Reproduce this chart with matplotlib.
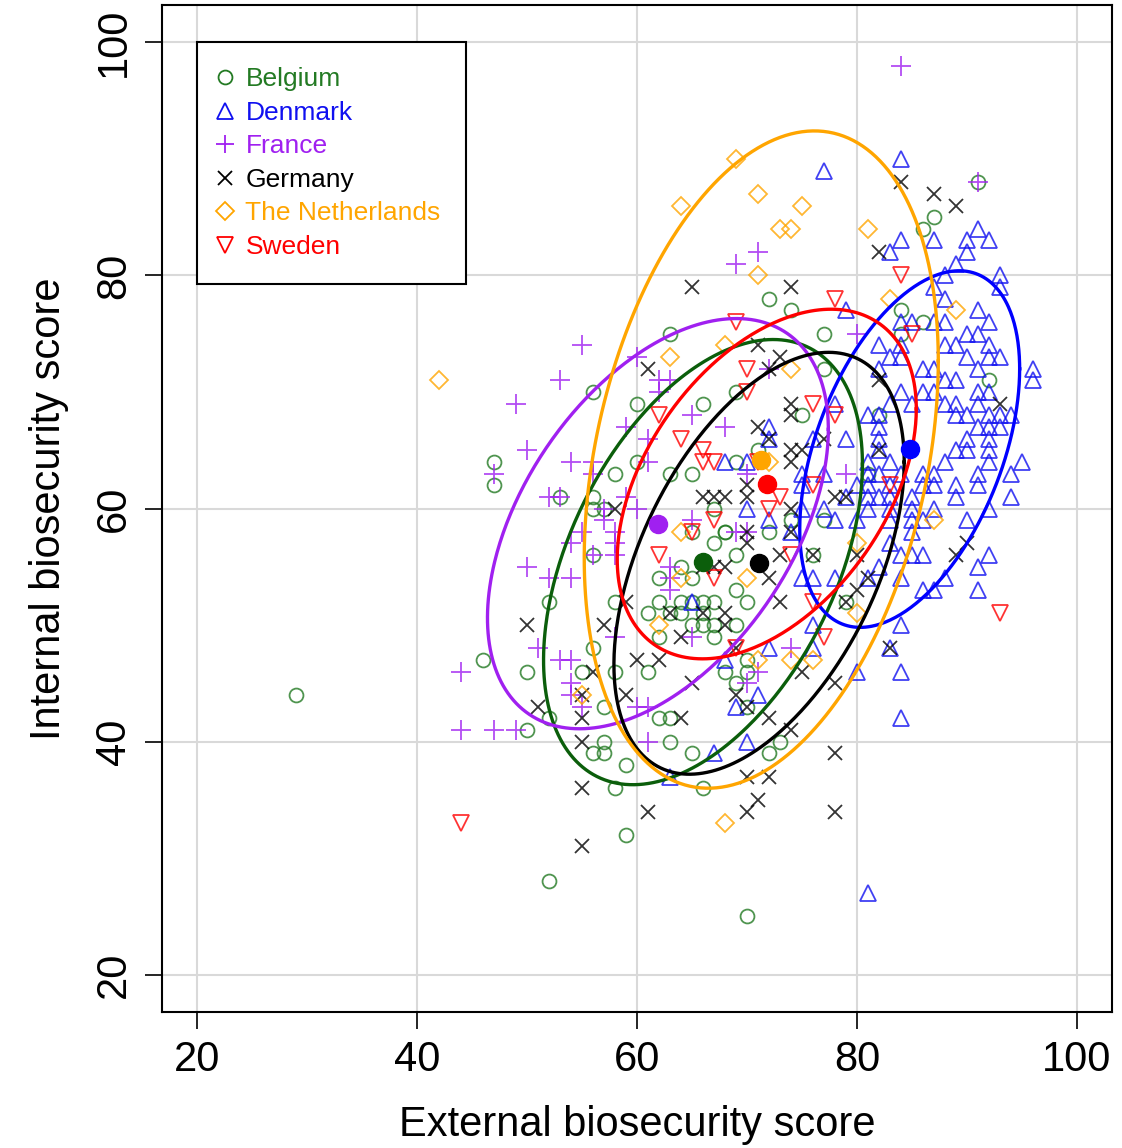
import numpy as np
import matplotlib
matplotlib.use("Agg")
import matplotlib.pyplot as plt
from matplotlib.lines import Line2D

plt.rcParams['font.family'] = ['Liberation Sans Narrow', 'Liberation Sans', 'DejaVu Sans']

countries = ["Belgium", "Denmark", "France", "Germany", "The Netherlands", "Sweden"]
colors = ["#237A23", "#1010F0", "#A020F0", "#000000", "#FFA500", "#FF0000"]
markers = ["o", "^", "+", "x", "D", "v"]

belgium = [(29,44),(47,64),(47,62),(46,47),(50,46),(50,41),(52,28),(59,32),(70,25),(58,36),(59,38),(66,36),
    (52,52),(58,52),(56,48),(55,46),(58,46),(57,43),(52,42),(57,40),(56,39),(57,39),(62,52),(61,51),(62,49),
    (62,42),(63,40),(62,54),(61,46),(56,70),(60,69),(53,61),(58,63),(60,64),(63,63),(63,75),(56,61),(56,56),
    (69,53),(70,52),(68,58),(67,57),(69,56),(65,52),(66,52),(67,52),(66,51),(67,50),(65,50),(64,51),(67,49),
    (70,46),(69,45),(63,42),(65,39),(70,43),(72,39),(73,40),(70,47),(68,46),(79,52),(76,56),(69,50),
    (72,78),(74,77),(77,75),(66,69),(65,63),(69,64),(77,72),(69,70),(75,68),(71,65),(65,58),(68,58),(72,58),
    (74,59),(77,59),(81,63),(87,85),(86,84),(84,77),(86,76),(84,75),(92,71),(82,68),(91,88),
    (56,60),(57,60),(67,60),(64,55),(65,54),(63,51),(64,52),(66,50)]
denmark = [(84,90),(84,83),(83,82),(87,83),(91,84),(90,83),(92,83),(90,82),(89,81),(88,80),(93,80),(93,79),
    (87,79),(88,78),(91,77),(85,76),(87,76),(88,76),(92,76),(90,75),(91,75),(89,74),(92,74),(90,73),(92,73),
    (93,73),(88,74),(86,72),(87,72),(91,72),(96,72),(96,71),(88,71),(89,71),(84,70),(86,70),(87,70),(91,70),
    (92,70),(85,69),(88,69),(89,69),(90,68),(91,69),(89,68),(92,68),(93,68),(94,68),(91,67),(92,67),(93,67),
    (90,66),(92,66),(82,67),(82,74),(83,64),(84,63),(86,63),(87,63),(89,65),(90,65),(92,65),(92,64),(95,64),
    (88,64),(91,63),(94,63),(86,62),(87,62),(89,62),(91,62),(89,61),(94,61),(85,60),(87,60),(92,60),(90,59),
    (86,59),(85,58),(83,57),(84,56),(85,56),(86,56),(92,56),(91,55),(84,54),(88,54),(86,53),(87,53),(91,53),
    (84,50),(83,48),(84,46),(84,42),(81,27),(79,77),(72,67),(72,66),(76,66),(79,66),(81,68),(82,68),(83,69),
    (84,76),(83,73),(84,73),(68,64),(70,64),(75,63),(77,63),(81,63),(82,63),(75,62),(80,62),(81,62),(82,61),
    (79,61),(70,60),(75,60),(77,60),(81,60),(83,61),(72,59),(78,59),(80,59),(74,58),(65,52),(75,54),(76,54),
    (78,54),(81,54),(82,55),(76,50),(76,48),(72,48),(68,47),(69,43),(71,44),(80,46),(70,40),(67,39),(63,37),
    (77,89),(84,74),(82,72),(78,69),(82,66),(82,65),(81,64),(83,62),(81,61),(83,60),(85,61),(85,59),(83,59)]
france = [(84,98),(69,81),(71,82),(55,74),(53,71),(49,69),(50,65),(54,64),(56,64),(56,63),(59,67),(60,73),
    (62,71),(63,71),(62,70),(61,66),(61,64),(47,63),(52,61),(57,60),(59,61),(60,60),(55,58),(58,58),(58,57),
    (54,57),(58,56),(52,54),(54,54),(50,55),(51,48),(53,47),(54,47),(54,45),(54,44),(55,43),(44,46),(44,41),
    (47,41),(49,41),(58,49),(61,40),(60,43),(61,43),(56,56),(80,75),(65,68),(68,67),(72,72),(79,63),(65,59),
    (70,63),(69,58),(70,58),(63,54),(65,49),(71,46),(70,45),(74,48),(91,88),(53,61),(57,59),(63,55),(63,53)]
germany = [(84,88),(87,87),(89,86),(82,82),(65,79),(74,79),(61,72),(71,74),(73,73),(72,72),(74,69),(74,68),
    (71,67),(72,66),(74,65),(75,65),(74,64),(77,66),(66,61),(67,61),(68,61),(70,62),(70,61),(74,60),(78,61),
    (79,61),(82,71),(82,65),(70,58),(74,58),(93,69),(90,57),(89,56),(83,48),(50,50),(57,50),(59,52),(51,43),
    (55,44),(55,42),(59,44),(60,47),(62,47),(55,40),(56,46),(63,51),(66,55),(67,55),(68,55),(70,57),(73,56),
    (72,54),(73,52),(66,51),(68,51),(68,50),(64,49),(69,48),(75,46),(78,45),(72,42),(74,41),(69,44),(70,43),
    (64,42),(65,45),(80,53),(81,54),(76,56),(79,52),(78,39),(80,56),(55,36),(55,31),(61,34),(70,37),(72,37),
    (71,35),(70,34),(78,34),(58,60)]
netherlands = [(42,71),(69,90),(64,86),(71,87),(75,86),(73,84),(74,84),(81,84),(71,80),(63,73),(83,78),(68,74),
    (74,72),(89,77),(87,59),(64,58),(70,54),(80,57),(80,51),(71,47),(74,47),(76,47),(64,54),(62,50),(55,44),
    (68,33),(72,64)]
sweden = [(44,33),(93,51),(78,78),(69,76),(70,72),(70,70),(76,69),(78,68),(64,66),(66,65),(66,64),(67,64),
    (71,64),(76,62),(83,62),(72,60),(73,61),(67,59),(65,58),(85,75),(62,68),(84,80),(62,56),(74,56),(67,54),
    (77,49),(76,52),(69,48)]
points = [belgium, denmark, france, germany, netherlands, sweden]

# group means (filled dots) and ellipse shape: half-width, half-height, correlation
mean_x = [66.0, 84.8, 61.9, 71.1, 71.3, 71.8]
mean_y = [55.4, 65.1, 58.7, 55.3, 64.2, 62.1]
ell_a = [14.5, 10.0, 15.5, 13.2, 16.1, 13.6]
ell_b = [19.1, 15.3, 17.6, 18.1, 28.2, 15.0]
ell_r = [0.44, 0.45, 0.46, 0.48, 0.30, 0.43]
ell_colors = ["#0B5E0B", "#0000FF", "#A020F0", "#000000", "#FFA500", "#FF0000"]

msize = {"o": 10, "^": 12, "+": 14, "x": 10, "D": 9, "v": 12}
leg_size = {"o": 10, "^": 11, "+": 13, "x": 10, "D": 9, "v": 11}

fig = plt.figure(figsize=(11.22, 11.48), dpi=100)
ax = fig.add_axes([0.1444, 0.1185, 0.8467, 0.8771])

for v in [20, 40, 60, 80, 100]:
    ax.axvline(v, color="#D9D9D9", lw=1.5, zorder=0)
    ax.axhline(v, color="#D9D9D9", lw=1.5, zorder=0)

for pts, c, m in zip(points, colors, markers):
    xs = [p[0] for p in pts]
    ys = [p[1] for p in pts]
    if m in ("+", "x"):
        ax.plot(xs, ys, ls="none", marker=m, ms=msize[m], mew=1.3, color=c, alpha=0.8, zorder=2)
    else:
        ax.plot(xs, ys, ls="none", marker=m, ms=msize[m], mew=1.3, mfc="none", mec=c, alpha=0.8, zorder=2)

t = np.linspace(0, 2 * np.pi, 400)
for cx, cy, a, b, r, c in zip(mean_x, mean_y, ell_a, ell_b, ell_r, ell_colors):
    d = np.arccos(r)
    ax.plot(cx + a * np.cos(t), cy + b * np.cos(t + d), color=c, lw=2.4, zorder=3)

for cx, cy, c in zip(mean_x, mean_y, ell_colors):
    ax.plot(cx, cy, marker="o", ms=13, color=c, mec=c, zorder=4)

ax.set_xlim(16.8, 103.2)
ax.set_ylim(16.8, 103.2)
ax.set_xticks([20, 40, 60, 80, 100])
ax.set_yticks([20, 40, 60, 80, 100])
ax.tick_params(axis="both", labelsize=30, length=12, width=1.2, pad=8)
for lab in ax.get_yticklabels():
    lab.set_rotation(90)
    lab.set_va("center")
for s in ax.spines.values():
    s.set_linewidth(1.5)
ax.set_xlabel("External biosecurity score", fontsize=30, labelpad=18)
ax.set_ylabel("Internal biosecurity score", fontsize=30, labelpad=18)

handles = []
for c, m in zip(colors, markers):
    if m in ("+", "x"):
        h = Line2D([], [], ls="none", marker=m, ms=leg_size[m], mew=1.3, color=c)
    else:
        h = Line2D([], [], ls="none", marker=m, ms=leg_size[m], mew=1.3, mfc="none", mec=c)
    handles.append(h)
leg = ax.legend(handles, countries, loc="upper left", bbox_to_anchor=(20, 100),
                bbox_transform=ax.transData, fontsize=19, frameon=True, fancybox=False,
                edgecolor="black", framealpha=1, borderpad=0.95, handletextpad=0.68,
                labelspacing=0.36, handlelength=0.2, borderaxespad=0)
leg.get_frame().set_linewidth(1.5)
for txt, c in zip(leg.get_texts(), colors):
    txt.set_color(c)

fig.savefig("out.png", dpi=100)
